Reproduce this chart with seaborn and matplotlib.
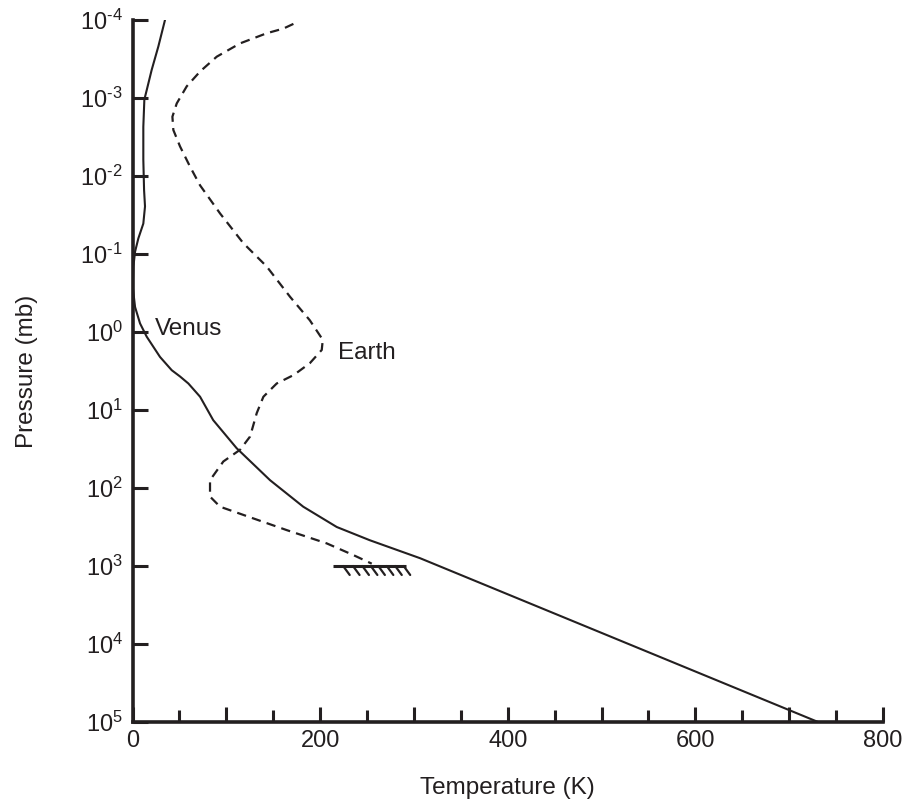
import numpy as np
import pandas as pd
import matplotlib
matplotlib.use("Agg")
import matplotlib.pyplot as plt
import seaborn as sns

# ---- data ----
venus_T = [34.6, 27.5, 20.4, 15.1, 12.6, 11.5, 11.5, 12.3, 13.3, 11.5, 6.2, 2.7, 0.9, 0.2, 2.7, 8.0,
           15.1, 29.3, 41.8, 50.6, 59.5, 72, 86, 111, 146.6, 182, 217.7, 253, 306.5, 730.8]
venus_logP = [-4.0, -3.66, -3.36, -3.10, -2.98, -2.63, -2.21, -1.82, -1.61, -1.39, -1.20, -1.03, -0.84,
              -0.58, -0.32, -0.11, 0.06, 0.32, 0.49, 0.57, 0.66, 0.83, 1.13, 1.49, 1.90, 2.24, 2.50,
              2.67, 2.90, 5.0]

earth_T = [171.5, 160.8, 143, 114.6, 89.8, 72, 57.8, 47.1, 42.5, 43.5, 50.6, 61.3, 72, 93.3, 118, 143,
           168, 189, 202.8, 201.7, 189, 172, 153.7, 139.5, 132.4, 125.3, 114.6, 96.8, 82.6, 82.6,
           93.3, 128.8, 164.4, 207, 235.4, 255]
earth_logP = [-3.95, -3.89, -3.83, -3.70, -3.53, -3.34, -3.15, -2.93, -2.76, -2.59, -2.38, -2.12, -1.88,
              -1.52, -1.14, -0.84, -0.45, -0.15, 0.10, 0.23, 0.40, 0.55, 0.66, 0.83, 1.04, 1.34, 1.51,
              1.66, 1.90, 2.11, 2.24, 2.39, 2.54, 2.71, 2.86, 2.97]

ground_T = [214, 292]
ground_P = 1000
hatch_T = [224.5, 235, 245, 254, 262, 271, 280, 289]

x_ticks = [0, 100, 200, 300, 400, 500, 600, 700, 800]
x_ticklabels = ["0", "", "200", "", "400", "", "600", "", "800"]
x_minor = [50, 150, 250, 350, 450, 550, 650, 750]
y_exps = [-4, -3, -2, -1, 0, 1, 2, 3, 4, 5]

# ---- style ----
sns.set_theme(style="white")
plt.rcParams["font.family"] = ["Liberation Sans", "DejaVu Sans"]
plt.rcParams["mathtext.fontset"] = "custom"
plt.rcParams["mathtext.rm"] = "Liberation Sans"
plt.rcParams["mathtext.default"] = "regular"

col = "#231f20"

fig = plt.figure(figsize=(9.09, 8.0), dpi=100)
ax = fig.add_axes([0.1458, 0.0975, 0.8256, 0.8775])

venus = pd.DataFrame({"T": venus_T, "P": [10.0 ** e for e in venus_logP]})
earth = pd.DataFrame({"T": earth_T, "P": [10.0 ** e for e in earth_logP]})

sns.lineplot(data=venus, x="T", y="P", sort=False, estimator=None, ax=ax,
             color=col, linewidth=1.5)
sns.lineplot(data=earth, x="T", y="P", sort=False, estimator=None, ax=ax,
             color=col, linewidth=1.6)
ax.lines[-1].set_dashes([4.2, 2.8])

# ground symbol
ax.plot(ground_T, [ground_P, ground_P], color=col, linewidth=2.2, solid_capstyle="butt")
for t in hatch_T:
    ax.plot([t, t + 7], [ground_P, ground_P * 10 ** 0.115], color=col, linewidth=1.6)

ax.set_yscale("log")
ax.set_xlim(0, 800)
ax.set_ylim(1e5, 1e-4)

ax.set_xticks(x_ticks)
ax.set_xticklabels(x_ticklabels)
ax.set_xticks(x_minor, minor=True)
ax.set_yticks([10.0 ** e for e in y_exps])
ax.set_yticklabels([f"10$^{{\\text{{{e}}}}}$" for e in y_exps])
ax.yaxis.set_minor_locator(matplotlib.ticker.NullLocator())

ax.tick_params(axis="both", which="major", direction="in", length=11, width=2.2,
               color=col, labelsize=17, labelcolor=col, bottom=True, left=True)
ax.tick_params(axis="x", which="major", pad=6)
ax.tick_params(axis="y", which="major", pad=7)
ax.tick_params(axis="x", which="minor", direction="in", length=8.5, width=2.2, color=col, bottom=True)

for s in ["top", "right"]:
    ax.spines[s].set_visible(False)
for s in ["left", "bottom"]:
    ax.spines[s].set_linewidth(2.6)
    ax.spines[s].set_color(col)

ax.set_xlabel("Temperature (K)", fontsize=17.5, color=col, labelpad=18)
ax.set_ylabel("Pressure (mb)", fontsize=17.5, color=col, labelpad=30)

ax.text(24, 10 ** -0.04, "Venus", fontsize=17.5, color=col, va="center", ha="left")
ax.text(219, 10 ** 0.27, "Earth", fontsize=17.5, color=col, va="center", ha="left")

fig.savefig("out.png", dpi=100)
